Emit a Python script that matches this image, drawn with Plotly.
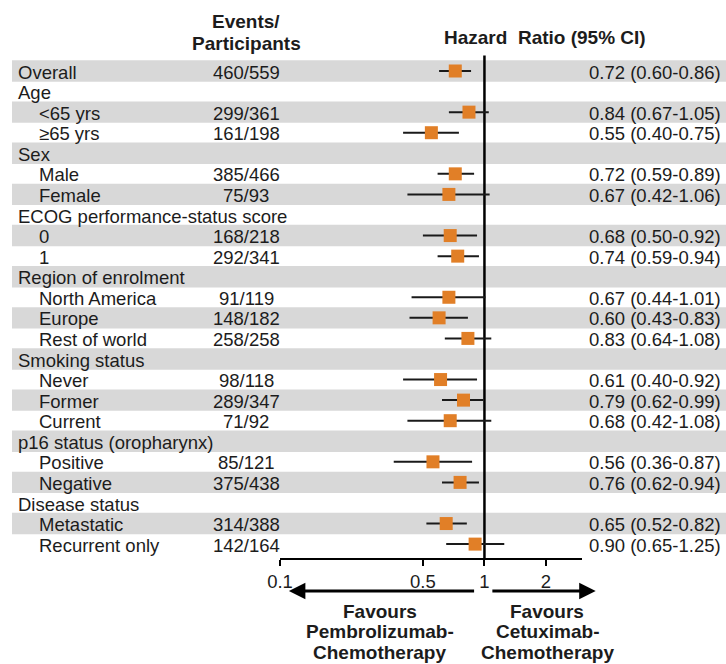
import math
import plotly.graph_objects as go

# ---------------- data ----------------
labels = ["Overall", "Age", "<65 yrs", "≥65 yrs", "Sex", "Male", "Female",
          "ECOG performance-status score", "0", "1", "Region of enrolment",
          "North America", "Europe", "Rest of world", "Smoking status", "Never",
          "Former", "Current", "p16 status (oropharynx)", "Positive", "Negative",
          "Disease status", "Metastatic", "Recurrent only"]
indented = [False, False, True, True, False, True, True, False, True, True, False,
            True, True, True, False, True, True, True, False, True, True, False, True, True]
events = ["460/559", "", "299/361", "161/198", "", "385/466", "75/93", "", "168/218",
          "292/341", "", "91/119", "148/182", "258/258", "", "98/118", "289/347",
          "71/92", "", "85/121", "375/438", "", "314/388", "142/164"]
hr = [0.72, None, 0.84, 0.55, None, 0.72, 0.67, None, 0.68, 0.74, None, 0.67, 0.60,
      0.83, None, 0.61, 0.79, 0.68, None, 0.56, 0.76, None, 0.65, 0.90]
lo = [0.60, None, 0.67, 0.40, None, 0.59, 0.42, None, 0.50, 0.59, None, 0.44, 0.43,
      0.64, None, 0.40, 0.62, 0.42, None, 0.36, 0.62, None, 0.52, 0.65]
hi = [0.86, None, 1.05, 0.75, None, 0.89, 1.06, None, 0.92, 0.94, None, 1.01, 0.83,
      1.08, None, 0.92, 0.99, 1.08, None, 0.87, 0.94, None, 0.82, 1.25]
tick_vals = [0.1, 0.5, 1, 2]
tick_text = ["0.1", "0.5", "1", "2"]
x_range = [0.1, 3]
left_label = ["Favours", "Pembrolizumab-", "Chemotherapy"]
right_label = ["Favours", "Cetuximab-", "Chemotherapy"]

# ---------------- layout helpers ----------------
W, H = 726, 664
FONT = "Arial, 'Liberation Sans', sans-serif"
TXT = "#1c1c1c"
FS = 18.5
FSB = 19
ORANGE = "#E17F27"
BAND = "#d8d8d8"

row0_px = 71.0
pitch = 20.57
axis_px = 558.0
plot_left_px, plot_right_px = 280.0, 582.0

def py(px):  # pixel y -> paper y
    return 1 - px / H

def px_x(px):
    return px / W

n = len(labels)
idx = list(range(n))
y_top = -row0_px / pitch
y_bot = (axis_px - row0_px) / pitch

fig = go.Figure()

shapes = []
for i in idx:
    if i % 2 == 0:
        shapes.append(dict(type="rect", xref="paper", yref="y", x0=12 / W, x1=1,
                           y0=i - 0.52, y1=i + 0.52, fillcolor=BAND,
                           line=dict(width=0), layer="below"))

fig.add_trace(go.Scatter(x=[1, 1], y=[-0.75, y_bot], mode="lines",
                         line=dict(color="black", width=2.5),
                         hoverinfo="skip", showlegend=False, cliponaxis=False))

xs, ys, ep, em = [], [], [], []
for i in idx:
    if hr[i] is not None:
        xs.append(hr[i]); ys.append(i)
        ep.append(hi[i] - hr[i]); em.append(hr[i] - lo[i])
fig.add_trace(go.Scatter(
    x=xs, y=ys, mode="markers",
    marker=dict(symbol="square", size=13, color=ORANGE, line=dict(width=0)),
    error_x=dict(type="data", symmetric=False, array=ep, arrayminus=em,
                 color="#1a1a1a", thickness=2, width=0),
    showlegend=False, hoverinfo="skip"))

ann = []
for i in idx:
    ann.append(dict(xref="paper", yref="y", x=px_x(37 if indented[i] else 16), y=i + 0.05,
                    text=labels[i], showarrow=False, xanchor="left", yanchor="middle",
                    font=dict(family=FONT, size=FS, color=TXT)))
    if events[i]:
        ann.append(dict(xref="paper", yref="y", x=px_x(246), y=i + 0.05,
                        text=events[i], showarrow=False, xanchor="center", yanchor="middle",
                        font=dict(family=FONT, size=FS, color=TXT)))
    if hr[i] is not None:
        ann.append(dict(xref="paper", yref="y", x=px_x(723), y=i + 0.05,
                        text=f"{hr[i]:.2f} ({lo[i]:.2f}-{hi[i]:.2f})", showarrow=False,
                        xanchor="right", yanchor="middle",
                        font=dict(family=FONT, size=FS, color=TXT)))

for t, ypx in [("<b>Events/</b>", 22), ("<b>Participants</b>", 43)]:
    ann.append(dict(xref="paper", yref="paper", x=px_x(246), y=py(ypx), text=t,
                    showarrow=False, xanchor="center", yanchor="middle",
                    font=dict(family=FONT, size=FSB, color=TXT)))
ann.append(dict(xref="paper", yref="paper", x=px_x(545), y=py(37),
                text="<b>Hazard  Ratio (95% CI)</b>", showarrow=False,
                xanchor="center", yanchor="middle",
                font=dict(family=FONT, size=FSB, color=TXT)))

for tail, head in [(0.905, 0.1105), (1.075, 3.5)]:
    ann.append(dict(xref="x", yref="paper", x=math.log10(head), y=py(591),
                    axref="x", ayref="pixel", ax=math.log10(tail), ay=0,
                    text="", showarrow=True, arrowhead=2, arrowsize=1.1,
                    arrowwidth=3, arrowcolor="black"))

for lines, cx in [(left_label, 380), (right_label, 547)]:
    for k, t in enumerate(lines):
        ann.append(dict(xref="paper", yref="paper", x=px_x(cx), y=py(611 + 20.5 * k),
                        text=f"<b>{t}</b>", showarrow=False, xanchor="center",
                        yanchor="middle", font=dict(family=FONT, size=FSB, color=TXT)))

fig.update_layout(
    template="none",
    width=W, height=H, margin=dict(l=0, r=0, t=0, b=0, pad=0, autoexpand=False),
    paper_bgcolor="white", plot_bgcolor="rgba(0,0,0,0)",
    shapes=shapes, annotations=ann, showlegend=False,
    xaxis=dict(type="log", range=[math.log10(x_range[0]), math.log10(x_range[1])],
               domain=[px_x(plot_left_px), px_x(plot_right_px)], automargin=False,
               tickvals=tick_vals, ticktext=tick_text, ticks="outside", ticklen=6,
               tickwidth=2, tickcolor="black", showline=True, linewidth=2,
               linecolor="black", showgrid=False, zeroline=False,
               tickfont=dict(family=FONT, size=FS, color=TXT)),
    yaxis=dict(range=[y_bot, y_top], domain=[py(axis_px), 1], visible=False,
               automargin=False, showgrid=False, zeroline=False),
)

fig.write_html("out.html", config={"displayModeBar": False},
               post_script="document.body.style.margin='0';document.body.style.overflow='hidden';")
